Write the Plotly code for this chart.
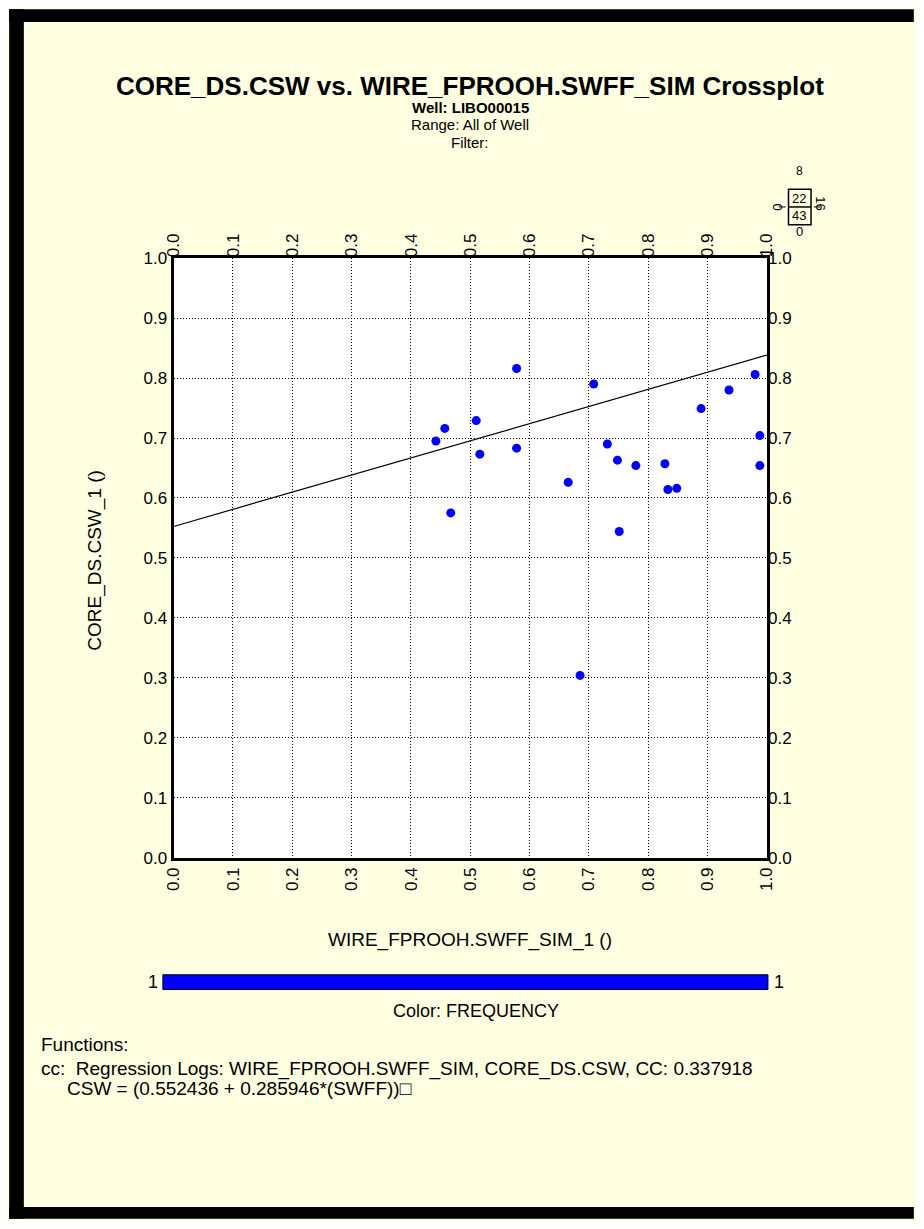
import plotly.graph_objects as go

# ---- data ----
swff = [0.442, 0.457, 0.467, 0.510, 0.516, 0.578, 0.578, 0.665, 0.708, 0.685, 0.731,
        0.748, 0.751, 0.779, 0.828, 0.833, 0.848, 0.889, 0.936, 0.980, 0.988, 0.988]
csw = [0.695, 0.716, 0.575, 0.729, 0.673, 0.816, 0.683, 0.626, 0.790, 0.304, 0.690,
       0.663, 0.544, 0.654, 0.657, 0.614, 0.616, 0.749, 0.780, 0.806, 0.704, 0.654]
reg_intercept = 0.552436
reg_slope = 0.285946
reg_x = [0.0, 1.0]
tick_vals = [0.0, 0.1, 0.2, 0.3, 0.4, 0.5, 0.6, 0.7, 0.8, 0.9, 1.0]
tick_text = ["0.0", "0.1", "0.2", "0.3", "0.4", "0.5", "0.6", "0.7", "0.8", "0.9", "1.0"]
freq_min, freq_max = 1, 1
box_labels = {"top": "8", "upper": "22", "lower": "43", "bottom": "0", "left": "0", "right": "16"}

# page is 924x1229; the browser's default 8px body margin surrounds the figure
PAGE_W, PAGE_H = 924, 1229
OFF = 8
W, H = PAGE_W - 2 * OFF, PAGE_H - 2 * OFF
FONT = "Liberation Sans, Arial, sans-serif"
CREAM = "#FFFFE1"


def px(x):
    return (x - OFF) / W


def py(y):
    return 1 - (y - OFF) / H


reg_y = [reg_intercept + reg_slope * v for v in reg_x]

fig = go.Figure()
fig.add_trace(go.Scatter(x=reg_x, y=reg_y, mode="lines",
                         line=dict(color="black", width=1.2), showlegend=False,
                         hoverinfo="skip"))
fig.add_trace(go.Scatter(x=swff, y=csw, mode="markers",
                         marker=dict(color="#0000FF", size=9, line=dict(width=0)),
                         showlegend=False))
# invisible trace to anchor the top/right axes
fig.add_trace(go.Scatter(x=[0], y=[0], xaxis="x2", yaxis="y2", mode="markers",
                         marker=dict(opacity=0), showlegend=False, hoverinfo="skip"))

xdom = [px(168), px(774)]
ydom = [py(862), py(253)]
tickfont = dict(family=FONT, size=17, color="black")

common = dict(range=[0, 1], tickvals=tick_vals, ticktext=tick_text, ticks="",
              zeroline=False, tickfont=tickfont, fixedrange=True)

fig.update_layout(
    width=W, height=H, autosize=False,
    margin=dict(l=0, r=0, t=0, b=0, pad=0),
    paper_bgcolor=CREAM, plot_bgcolor="white",
    font=dict(family=FONT, color="black"),
    xaxis=dict(domain=xdom, anchor="y", side="bottom", tickangle=-90,
               showgrid=True, gridcolor="black", griddash="1px,2px", gridwidth=1,
               showline=True, linecolor="black", linewidth=3, mirror=True, **common),
    yaxis=dict(domain=ydom, anchor="x", side="left",
               showgrid=True, gridcolor="black", griddash="1px,2px", gridwidth=1,
               showline=True, linecolor="black", linewidth=3, mirror=True, **common),
    xaxis2=dict(domain=xdom, anchor="y2", overlaying="x", side="top", tickangle=-90,
                showgrid=False, showline=False, **common),
    yaxis2=dict(domain=ydom, anchor="x2", overlaying="y", side="right",
                showgrid=False, showline=False, **common),
)

ann = []


def text(x, y, s, size=16, bold=False, xanchor="center", yanchor="middle", angle=0):
    ann.append(dict(x=px(x), y=py(y), xref="paper", yref="paper", showarrow=False,
                    text=("<b>%s</b>" % s) if bold else s, textangle=angle,
                    xanchor=xanchor, yanchor=yanchor,
                    font=dict(family=FONT, size=size, color="black")))


text(471, 78, "CORE_DS.CSW vs. WIRE_FPROOH.SWFF_SIM Crossplot", size=26, bold=True)
text(471, 100, "Well: LIBO00015", size=15, bold=True)
text(471, 117.5, "Range: All of Well", size=15)
text(471, 135, "Filter:", size=15)

# small quadrant box
text(807, 164, box_labels["top"], size=12)
text(807, 192, box_labels["upper"], size=13)
text(807, 210, box_labels["lower"], size=13)
text(807, 226, box_labels["bottom"], size=13)
text(785, 201, box_labels["left"], size=13, angle=-90)
text(829, 197, box_labels["right"], size=13, angle=90)

text(88, 560, "CORE_DS.CSW_1 ()", size=19, angle=-90)
text(471, 946, "WIRE_FPROOH.SWFF_SIM_1 ()", size=19)

text(147, 988, str(freq_min), size=18)
text(786, 988, str(freq_max), size=18)
text(477, 1018, "Color: FREQUENCY", size=18)

text(30, 1052, "Functions:", size=19, xanchor="left")
text(30, 1077, "cc:&nbsp;&nbsp;Regression Logs: WIRE_FPROOH.SWFF_SIM, CORE_DS.CSW, CC: 0.337918",
     size=19, xanchor="left")
text(57, 1097, "CSW = (%g + %g*(SWFF))\u25a1" % (reg_intercept, reg_slope), size=19,
     xanchor="left")

fig.update_layout(annotations=ann)

shapes = []


def rect(x0, y0, x1, y1, fill, line_color=None, lw=0):
    shapes.append(dict(type="rect", xref="paper", yref="paper",
                       x0=px(x0), x1=px(x1), y0=py(y1), y1=py(y0),
                       fillcolor=fill, line=dict(color=line_color or fill, width=lw),
                       layer="above"))


# outer frame (black bands on top, left and bottom)
rect(0, 0, PAGE_W, 13, "black")
rect(0, 0, 15, PAGE_H, "black")
rect(0, 1217, PAGE_W, PAGE_H, "black")

# colour bar
rect(157, 981, 775, 996, "#0000FF", "black", 1)

# quadrant box
rect(796, 183, 819, 219, "rgba(0,0,0,0)", "black", 1.5)
shapes.append(dict(type="line", xref="paper", yref="paper", x0=px(796), x1=px(819),
                   y0=py(201), y1=py(201), line=dict(color="black", width=1.5)))
shapes.append(dict(type="line", xref="paper", yref="paper", x0=px(786), x1=px(793),
                   y0=py(201), y1=py(201), line=dict(color="black", width=1)))
shapes.append(dict(type="line", xref="paper", yref="paper", x0=px(822), x1=px(829),
                   y0=py(201), y1=py(201), line=dict(color="black", width=1)))

fig.update_layout(shapes=shapes)

fig.write_html("out.html", config={"displayModeBar": False})
